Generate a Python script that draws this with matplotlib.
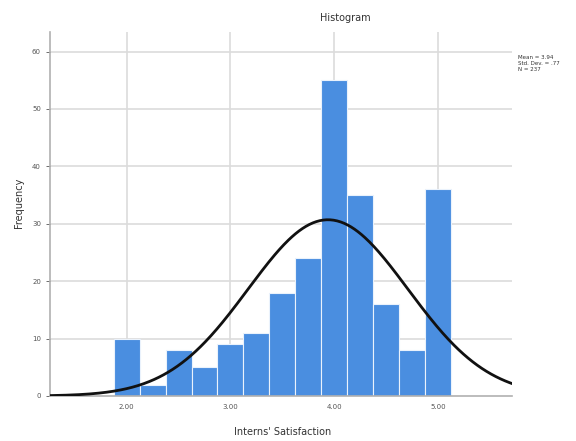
import numpy as np
import matplotlib
matplotlib.use("Agg")
import matplotlib.pyplot as plt

# Data
bin_centers = [2.00, 2.25, 2.50, 2.75, 3.00, 3.25, 3.50, 3.75, 4.00, 4.25, 4.50, 4.75, 5.00]
counts = [10, 2, 8, 5, 9, 11, 18, 24, 55, 35, 16, 8, 36]
bin_width = 0.25
mean_val = 3.94
sd_val = 0.77
n_val = 237
x_ticks = [2.0, 3.0, 4.0, 5.0]
x_tick_labels = ["2.00", "3.00", "4.00", "5.00"]
y_ticks = [0, 10, 20, 30, 40, 50, 60]

fig = plt.figure(figsize=(5.76, 4.41), dpi=100)
ax = fig.add_axes([50/576, 1-396/441, (512-50)/576, (396-32)/441])

ax.set_xlim(1.261, 5.713)
ax.set_ylim(0, 63.4)

# grid
for yt in y_ticks[1:]:
    ax.axhline(yt, color='#dcdcdc', lw=1.2, zorder=0)
for xt in x_ticks:
    ax.axvline(xt, color='#dcdcdc', lw=1.2, zorder=0)

ax.bar(bin_centers, counts, width=bin_width, color='#4a8ee0',
       edgecolor='#eaf2fc', linewidth=0.8, zorder=2)

xs = np.linspace(1.261, 5.713, 400)
pdf = np.exp(-0.5*((xs-mean_val)/sd_val)**2)/(sd_val*np.sqrt(2*np.pi))
ax.plot(xs, pdf*n_val*bin_width, color='#111111', lw=2.0, zorder=3)

for s in ['top', 'right']:
    ax.spines[s].set_visible(False)
for s in ['left', 'bottom']:
    ax.spines[s].set_color('#b0b0b0')
    ax.spines[s].set_linewidth(1.2)

ax.set_xticks(x_ticks)
ax.set_xticklabels(x_tick_labels)
ax.set_yticks(y_ticks)
ax.tick_params(axis='both', labelsize=5, colors='#555555', length=3, width=0.6)
ax.tick_params(axis='x', length=0, pad=6)

fig.text(345/576, 1-18/441, "Histogram", ha='center', va='center', fontsize=7, color='#333333')
fig.text(283/576, 1-432/441, "Interns' Satisfaction", ha='center', va='center', fontsize=7, color='#333333')
fig.text(19/576, 1-203/441, "Frequency", ha='center', va='center', rotation=90, fontsize=7, color='#333333')
fig.text(518/576, 1-55/441,
         f"Mean = {mean_val:.2f}\nStd. Dev. = {sd_val:.2f}".replace("0.", ".") + f"\nN = {n_val}",
         ha='left', va='top', fontsize=4, color='#333333', linespacing=1.2)

fig.savefig("out.png", dpi=100)
